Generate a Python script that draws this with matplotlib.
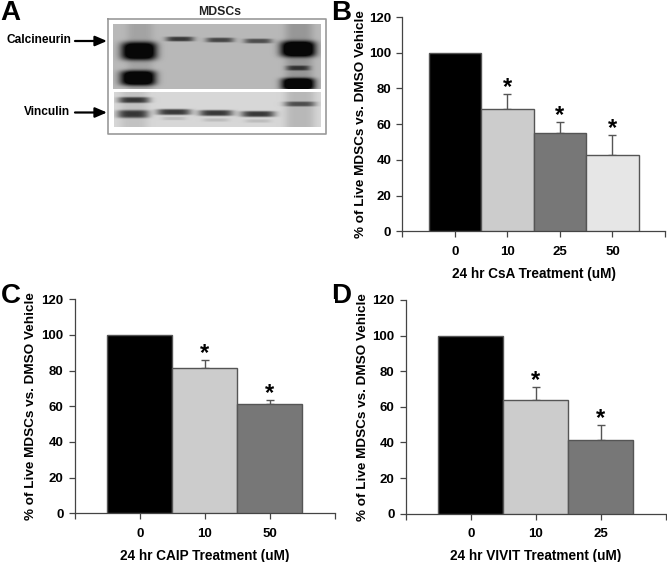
import numpy as np
import matplotlib
matplotlib.use("Agg")
import matplotlib.pyplot as plt
from matplotlib.transforms import ScaledTranslation

plt.rcParams["font.family"] = ["Liberation Sans", "DejaVu Sans"]
plt.rcParams["font.weight"] = "bold"

W, H = 667, 562

# panel B
csa_labels = ["0", "10", "25", "50"]
csa_values = [100, 68.3, 55, 42.7]
csa_tops = [None, 77, 61, 54]

# panel C
caip_labels = ["0", "10", "50"]
caip_values = [100, 81.5, 61.3]
caip_tops = [None, 86, 63.5]

# panel D
vivit_labels = ["0", "10", "25"]
vivit_values = [100, 63.7, 41.3]
vivit_tops = [None, 71, 50]

bar_colors = ["#000000", "#cccccc", "#777777", "#e6e6e6"]
yticks = [0, 20, 40, 60, 80, 100, 120]

fig = plt.figure(figsize=(W / 100, H / 100), dpi=100)


def px_axes(x0, x1, y_top, y_bottom):
    return fig.add_axes([x0 / W, 1 - y_bottom / H, (x1 - x0) / W, (y_bottom - y_top) / H])


def bar_panel(rect, labels, values, tops, xlabel, ylab_offset):
    ax = px_axes(*rect)
    n = len(labels)
    x = np.arange(n)
    ax.bar(x, values, width=1, color=bar_colors[:n], edgecolor="#555555", linewidth=1.0, zorder=3)
    for xi, v, t in zip(x, values, tops):
        if t is None:
            continue
        ax.errorbar(xi, v, yerr=[[0], [t - v]], color="#555555", lw=1.0, capsize=3,
                    capthick=1.0, zorder=2)
        ax.annotate("*", (xi, t), xytext=(0, -3.5), textcoords="offset points", ha="center",
                    va="bottom", fontsize=17, color="black")
    ax.set_xlim(-1, n)
    ax.set_ylim(0, 120)
    ax.set_xticks(np.arange(-1, n + 1))
    ax.set_xticklabels([""] + labels + [""])
    ax.set_yticks(yticks)
    for side in ["top", "right"]:
        ax.spines[side].set_visible(False)
    for side in ["left", "bottom"]:
        ax.spines[side].set_color("#444444")
        ax.spines[side].set_linewidth(0.9)
    ax.tick_params(axis="both", color="#444444", width=0.9, length=4, labelsize=9.5)
    ax.tick_params(axis="x", pad=6.5)
    ax.tick_params(axis="y", pad=4)
    ax.set_xlabel(xlabel, fontsize=9.8, fontweight="bold", labelpad=6.5)
    ax.set_ylabel("% of Live MDSCs vs. DMSO Vehicle", fontsize=9.7, fontweight="bold")
    # label sits a fixed number of pixels left of the axis
    shift = ScaledTranslation(-ylab_offset / 100, 0, fig.dpi_scale_trans)
    ax.yaxis.set_label_coords(0, 0.5, transform=ax.transAxes + shift)
    ax.yaxis.label.set_verticalalignment("center")
    return ax


bar_panel((402.3, 665, 17, 231.3), csa_labels, csa_values, csa_tops, "24 hr CsA Treatment (uM)", 41.5)
bar_panel((74.7, 335, 299.3, 513.3), caip_labels, caip_values, caip_tops, "24 hr CAIP Treatment (uM)", 43.5)
bar_panel((405.7, 666, 300, 513.7), vivit_labels, vivit_values, vivit_tops, "24 hr VIVIT Treatment (uM)", 43)

# overlay in pixel coordinates for the blot and panel letters
ov = fig.add_axes([0, 0, 1, 1], zorder=-1)
ov.set_xlim(0, W)
ov.set_ylim(H, 0)
ov.axis("off")


def blot(x0, x1, y0, y1, base, lanes, bands):
    xx, yy = np.meshgrid(np.arange(x0, x1) + 0.5, np.arange(y0, y1) + 0.5)
    img = np.full(xx.shape, base, dtype=float)
    for cx, hw, d in lanes:
        img -= d * np.exp(-((xx - cx) / hw) ** 4)
    for cx, cy, hw, hh, d in bands:
        img -= d * np.exp(-((xx - cx) / hw) ** 4 - ((yy - cy) / hh) ** 4)
    img = np.clip(img, 0.03, 1)
    ov.imshow(img, extent=(x0, x1, y1, y0), cmap="gray", vmin=0, vmax=1, aspect="auto",
              interpolation="bilinear")


top_lanes = [(140, 13, 0.08), (299, 14, 0.13)]
top_bands = [(139, 51, 18, 9, 0.9), (138, 78, 18, 7.5, 0.9),
             (180, 39, 14, 2.4, 0.5), (220, 40, 14, 2.4, 0.45), (258, 41, 14, 2.4, 0.42),
             (298, 49, 18, 8, 0.9), (298, 84, 17, 6, 0.9), (298, 68, 12, 2.5, 0.4)]
bottom_lanes = [(134, 14, 0.08), (300, 15, 0.12)]
bottom_bands = [(134, 100, 16, 3, 0.55), (133, 114, 16, 4, 0.55),
                (174, 112, 17, 3, 0.62), (216, 113, 17, 3, 0.62), (258, 114, 17, 3, 0.62),
                (174, 118.5, 12, 1.7, 0.1), (216, 120, 13, 1.7, 0.1), (258, 121, 13, 1.7, 0.1),
                (300, 104, 16, 2.5, 0.42)]
blot(113, 321, 24, 89, 0.72, top_lanes, top_bands)
blot(114, 321, 92, 127, 0.84, bottom_lanes, bottom_bands)
ov.plot([108, 326, 326, 108, 108], [19, 19, 134, 134, 19], color="#999999", lw=1.2)
ov.set_xlim(0, W)
ov.set_ylim(H, 0)

ov.text(220, 12, "MDSCs", ha="center", va="center", fontsize=8.8, color="#222222")
ov.text(39, 40, "Calcineurin", ha="center", va="center", fontsize=8.6)
ov.text(47, 112, "Vinculin", ha="center", va="center", fontsize=8.6)
for y in [41, 112.5]:
    ov.annotate("", xy=(107, y), xytext=(75, y),
                arrowprops=dict(arrowstyle="-|>,head_length=0.7,head_width=0.3", color="black", lw=1.6,
                                shrinkA=0, shrinkB=0))

for letter, x, y in [("A", 0, 20.5), ("B", 331, 20.5), ("C", 1, 303), ("D", 331, 303)]:
    ov.text(x, y, letter, ha="left", va="baseline", fontsize=20)

fig.savefig("out.png", dpi=100)
